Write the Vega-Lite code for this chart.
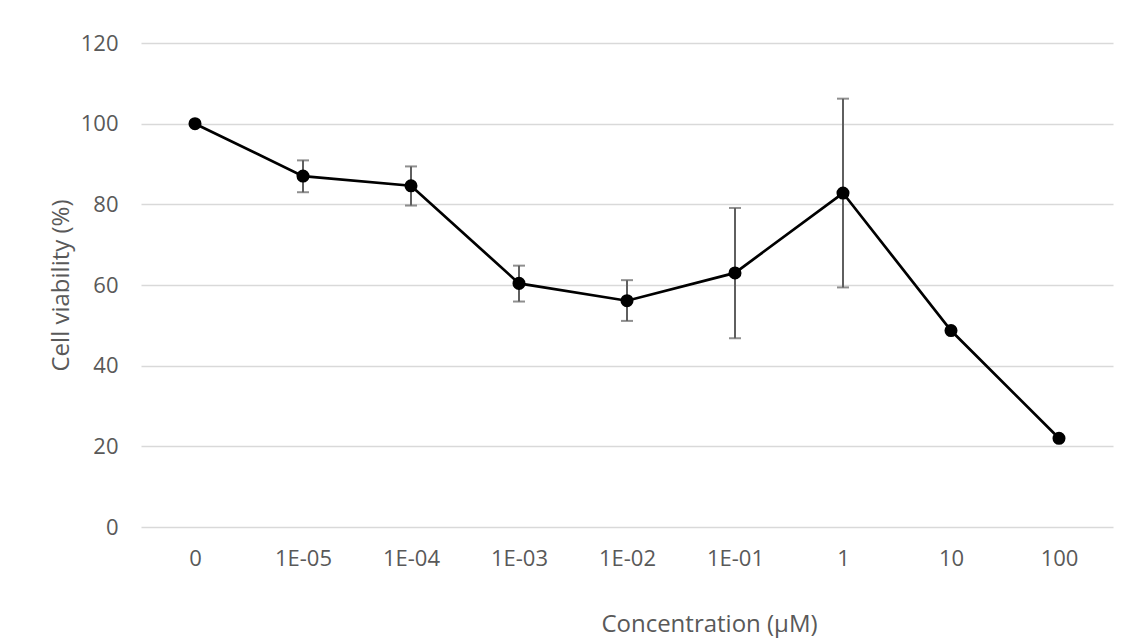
{
  "$schema": "https://vega.github.io/schema/vega-lite/v6.json",
  "autosize": {"type": "none"},
  "width": 972,
  "height": 484,
  "padding": {"left": 141, "top": 43, "right": 16, "bottom": 114},
  "background": "white",
  "config": {
    "font": "Open Sans",
    "view": {"stroke": null},
    "axis": {"labelColor": "#595959", "titleColor": "#595959", "labelFont": "Open Sans", "titleFont": "Open Sans", "labelFontSize": 22, "titleFontSize": 24, "titleFontWeight": "normal"}
  },
  "data": {
    "values": [
      {"c": "0", "v": 100, "lo": null, "hi": null},
      {"c": "1E-05", "v": 87.0, "lo": 83.0, "hi": 90.9},
      {"c": "1E-04", "v": 84.6, "lo": 79.7, "hi": 89.4},
      {"c": "1E-03", "v": 60.4, "lo": 55.9, "hi": 64.8},
      {"c": "1E-02", "v": 56.1, "lo": 51.1, "hi": 61.2},
      {"c": "1E-01", "v": 63.0, "lo": 46.8, "hi": 79.1},
      {"c": "1", "v": 82.8, "lo": 59.4, "hi": 106.2},
      {"c": "10", "v": 48.7, "lo": null, "hi": null},
      {"c": "100", "v": 22.0, "lo": null, "hi": null}
    ]
  },
  "encoding": {
    "x": {
      "field": "c", "type": "nominal",
      "sort": ["0", "1E-05", "1E-04", "1E-03", "1E-02", "1E-01", "1", "10", "100"],
      "scale": {"type": "point", "padding": 0.5, "domain": ["0", "1E-05", "1E-04", "1E-03", "1E-02", "1E-01", "1", "10", "100"]},
      "axis": {"title": "Concentration (μM)", "labelAngle": 0, "ticks": false, "domain": false, "grid": false, "labelPadding": 21, "titleX": 568, "titleY": 104, "titleAlign": "center", "titleBaseline": "alphabetic", "titleAnchor": null}
    }
  },
  "layer": [
    {
      "mark": {"type": "rule", "color": "#5f5f5f", "strokeWidth": 2},
      "encoding": {
        "y": {"field": "lo", "type": "quantitative", "scale": {"domain": [0, 120], "nice": false},
          "axis": {"title": "Cell viability (%)", "values": [0, 20, 40, 60, 80, 100, 120], "ticks": false, "domain": false, "grid": true, "gridColor": "#d9d9d9", "gridWidth": 1.5, "labelPadding": 23, "titleX": -80, "titleY": 242, "titleAngle": -90, "titleAlign": "center", "titleBaseline": "middle", "titleAnchor": null}},
        "y2": {"field": "hi"}
      }
    },
    {
      "mark": {"type": "tick", "color": "#5f5f5f", "thickness": 2, "size": 12, "orient": "horizontal"},
      "encoding": {"y": {"field": "lo", "type": "quantitative"}}
    },
    {
      "mark": {"type": "tick", "color": "#5f5f5f", "thickness": 2, "size": 12, "orient": "horizontal"},
      "encoding": {"y": {"field": "hi", "type": "quantitative"}}
    },
    {
      "mark": {"type": "line", "color": "black", "strokeWidth": 2.7},
      "encoding": {"y": {"field": "v", "type": "quantitative"}}
    },
    {
      "mark": {"type": "point", "shape": "circle", "filled": true, "color": "black", "opacity": 1, "size": 170},
      "encoding": {"y": {"field": "v", "type": "quantitative"}}
    }
  ]
}
